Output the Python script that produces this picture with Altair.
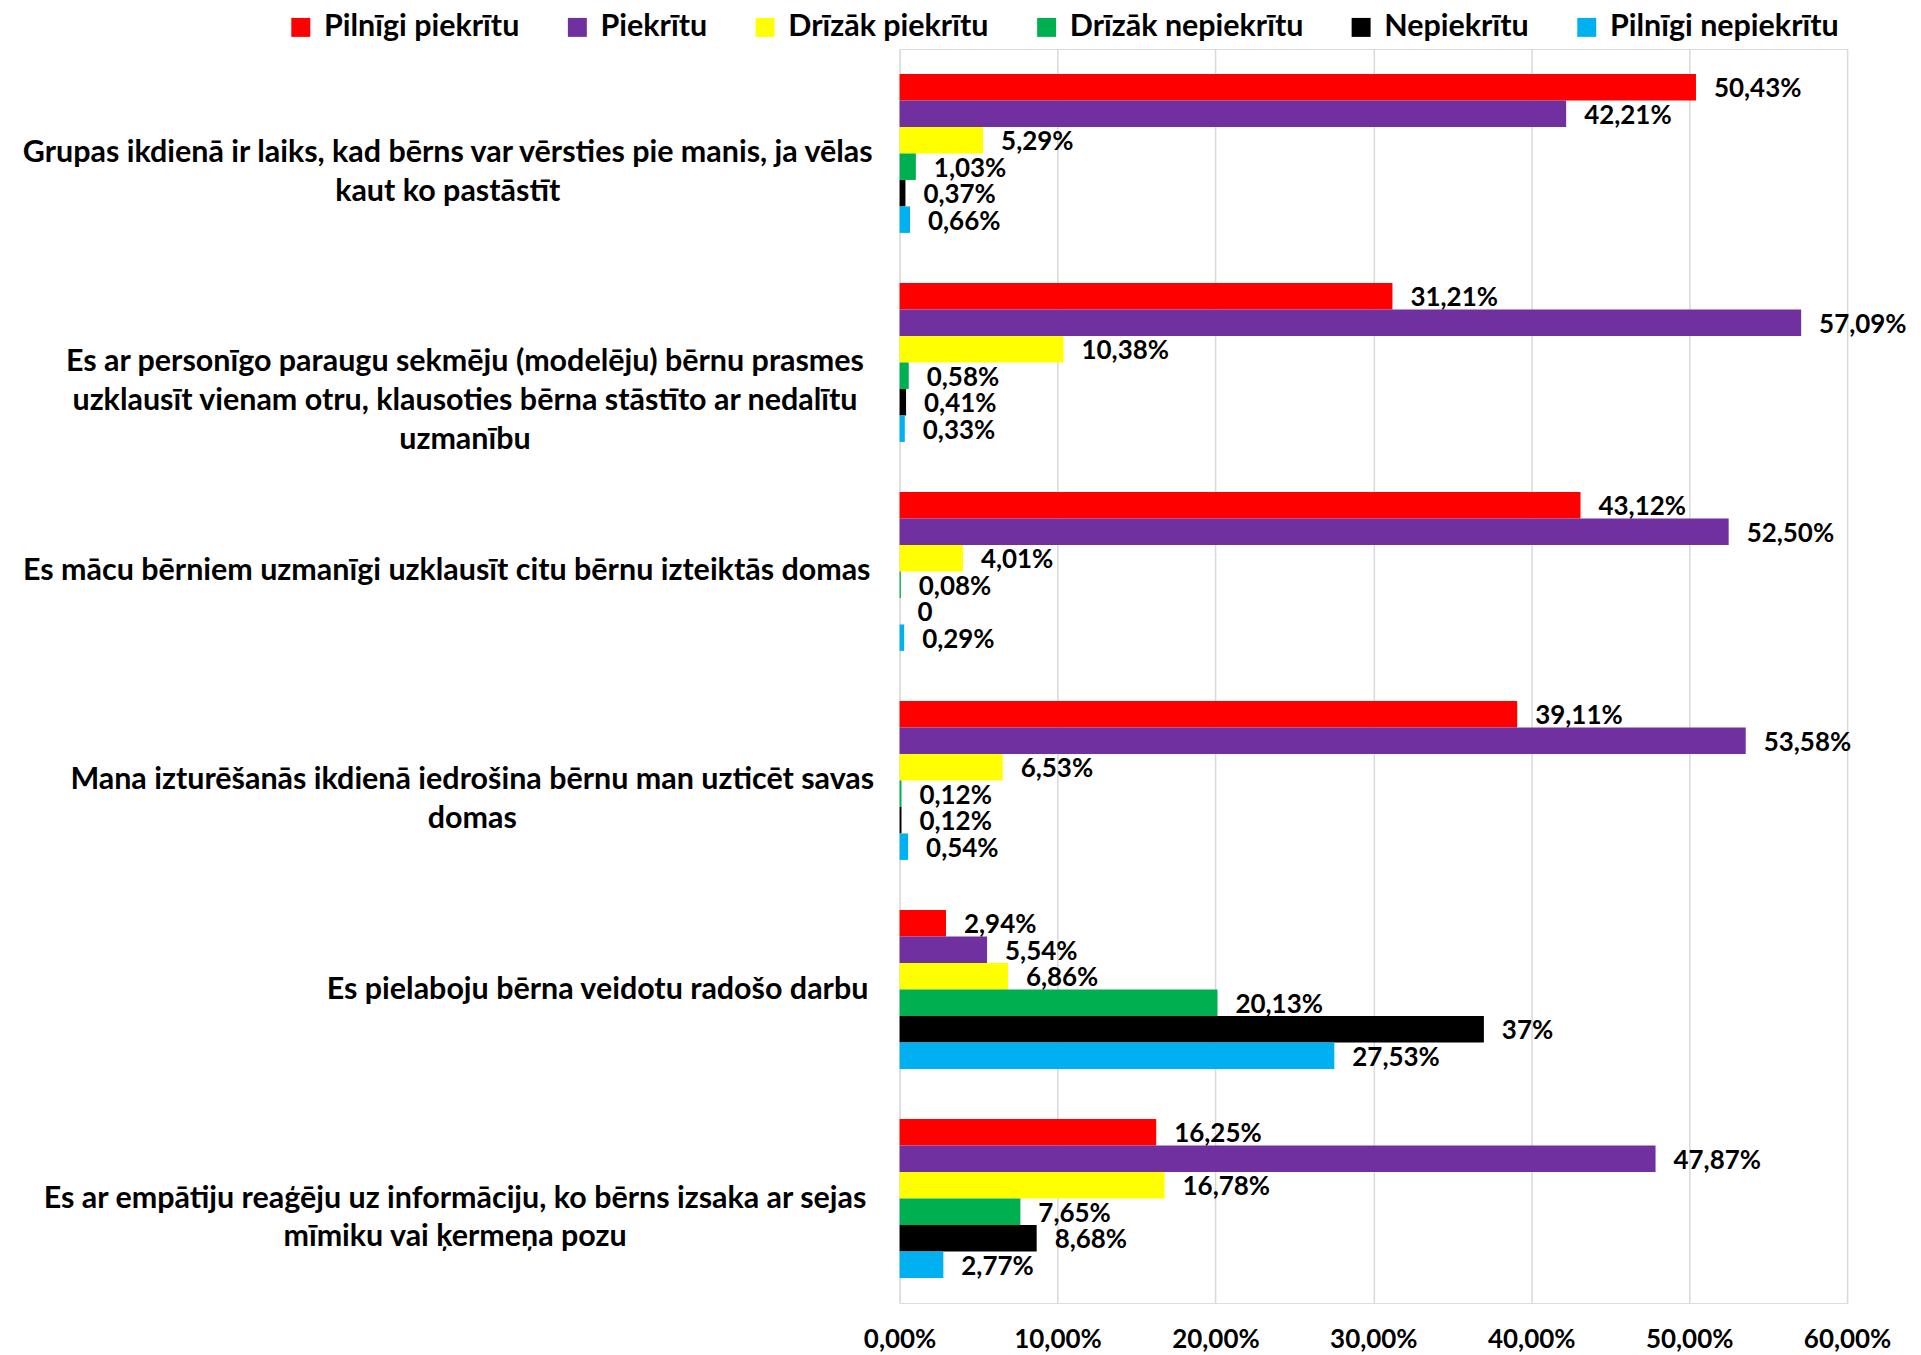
import altair as alt
import pandas as pd

# ---------------- data ----------------
questions = [
    "Grupas ikdienā ir laiks, kad bērns var vērsties pie manis, ja vēlas\nkaut ko pastāstīt",
    "Es ar personīgo  paraugu sekmēju (modelēju) bērnu prasmes\nuzklausīt vienam otru, klausoties bērna stāstīto ar nedalītu\nuzmanību",
    "Es mācu bērniem uzmanīgi uzklausīt citu bērnu izteiktās domas",
    "Mana izturēšanās ikdienā iedrošina bērnu man uzticēt savas\ndomas",
    "Es pielaboju bērna veidotu radošo darbu",
    "Es ar empātiju reaģēju uz informāciju, ko bērns izsaka ar sejas\nmīmiku vai ķermeņa pozu",
]
series = ["Pilnīgi piekrītu", "Piekrītu", "Drīzāk piekrītu",
          "Drīzāk nepiekrītu", "Nepiekrītu", "Pilnīgi nepiekrītu"]
colors = ["#FF0000", "#7030A0", "#FFFF00", "#00B050", "#000000", "#00B0F0"]

pilnigi_piekritu = [50.43, 31.21, 43.12, 39.11, 2.94, 16.25]
piekritu = [42.21, 57.09, 52.50, 53.58, 5.54, 47.87]
drizak_piekritu = [5.29, 10.38, 4.01, 6.53, 6.86, 16.78]
drizak_nepiekritu = [1.03, 0.58, 0.08, 0.12, 20.13, 7.65]
nepiekritu = [0.37, 0.41, 0, 0.12, 37, 8.68]
pilnigi_nepiekritu = [0.66, 0.33, 0.29, 0.54, 27.53, 2.77]

x_ticks = [0, 10, 20, 30, 40, 50, 60]

# ---------------- build table ----------------
all_values = [pilnigi_piekritu, piekritu, drizak_piekritu,
              drizak_nepiekritu, nepiekritu, pilnigi_nepiekritu]


def fmt(v):
    if v == 0:
        return "0"
    if float(v).is_integer():
        return f"{int(v)}%"
    return f"{v:.2f}%".replace(".", ",")


rows = []
for s, vals in zip(series, all_values):
    for q, v in zip(questions, vals):
        rows.append({"question": q, "series": s, "value": v, "label": fmt(v)})
df = pd.DataFrame(rows)

# --- category label placement (centered lines, block right edge fixed) ---
FONT = "Lato"
FS_TXT = 30.5   # category labels & legend
FS_NUM = 26     # numbers
W = {" ": 0.193, "a": 0.50, "b": 0.56, "c": 0.46, "d": 0.56, "e": 0.53, "g": 0.51,
     "i": 0.25, "j": 0.25, "k": 0.52, "l": 0.25, "m": 0.83, "n": 0.56, "o": 0.56,
     "p": 0.56, "r": 0.38, "s": 0.43, "t": 0.37, "u": 0.56, "v": 0.51, "z": 0.45,
     ",": 0.22, "(": 0.32, ")": 0.32, "ā": 0.50, "ē": 0.53, "ī": 0.25, "ū": 0.56,
     "š": 0.43, "ķ": 0.52, "ļ": 0.25, "ņ": 0.56, "ģ": 0.51, "ž": 0.45}


def text_w(line):
    return 1.02 * sum(W.get(ch, 0.62) for ch in line) * FS_TXT


RIGHT_EDGE = -31
lab_rows = []
for q in questions:
    wmax = max(text_w(l) for l in q.split("\n"))
    lab_rows.append({"question": q, "cx": RIGHT_EDGE - wmax / 2})
lab_df = pd.DataFrame(lab_rows)

# ---------------- chart ----------------
y_enc = alt.Y("question:N", sort=questions, axis=None,
              scale=alt.Scale(domain=questions, paddingInner=0.24, paddingOuter=0.12))
yoff_enc = alt.YOffset("series:N", sort=series,
                       scale=alt.Scale(domain=series, paddingInner=0, paddingOuter=0))
x_enc = alt.X("value:Q",
              scale=alt.Scale(domain=[0, 60], nice=False, zero=True),
              axis=alt.Axis(values=x_ticks, grid=True, gridColor="#d9d9d9", gridWidth=1.5,
                            domain=False, ticks=False, title=None,
                            labelExpr="replace(format(datum.value, '.2f'), '.', ',') + '%'",
                            labelFont=FONT, labelFontSize=FS_NUM, labelFontWeight="bold",
                            labelColor="#000000", labelPadding=24, labelBaseline="top",
                            labelFlush=False))

bars = alt.Chart(df).mark_bar(size=26.5).encode(
    y=y_enc,
    yOffset=yoff_enc,
    x=x_enc,
    color=alt.Color("series:N", sort=series,
                    scale=alt.Scale(domain=series, range=colors),
                    legend=alt.Legend(title=None, orient="none", legendX=-615, legendY=-37,
                                      direction="horizontal", symbolType="square",
                                      symbolSize=361, symbolStrokeWidth=0,
                                      labelFont=FONT, labelFontSize=FS_TXT,
                                      labelFontWeight="bold", labelColor="#000000",
                                      labelLimit=0, labelOffset=8, columnPadding=42,
                                      padding=0)),
)

labels = alt.Chart(df).mark_text(align="left", baseline="middle", dx=18, dy=2,
                                 font=FONT, fontSize=FS_NUM, fontWeight="bold",
                                 color="#000000").encode(
    y=y_enc,
    yOffset=yoff_enc,
    x=alt.X("value:Q"),
    text="label:N",
)

cats = alt.Chart(lab_df).mark_text(align="center", baseline="middle", lineBreak="\n",
                                   lineHeight=39, font=FONT, fontSize=FS_TXT,
                                   fontWeight="bold", color="#000000").encode(
    y=alt.Y("question:N", sort=questions, axis=None),
    x=alt.X("cx:Q", scale=None),
    text="question:N",
)

chart = alt.layer(bars, labels, cats).properties(
    width=949, height=1256,
    autosize=alt.AutoSizeParams(type="none"),
    padding={"left": 893, "top": 40, "right": 66, "bottom": 51},
).configure_view(stroke=None).configure(background="#ffffff")

chart.save("out.html", embed_options={"renderer": "svg", "actions": False})
